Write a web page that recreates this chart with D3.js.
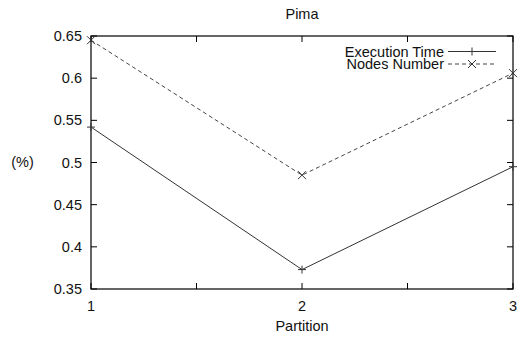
<!DOCTYPE html>
<html><head><meta charset="utf-8">
<script src="https://cdn.jsdelivr.net/npm/d3@7"></script>
<style>body{margin:0;background:#fff}svg text{font-family:"Liberation Sans",Arial,sans-serif;fill:#111}</style>
</head><body><svg id="c" width="524" height="339"></svg>
<script>
const partitions = [1, 2, 3];
const executionTime = [0.542, 0.373, 0.495];
const nodesNumber = [0.645, 0.485, 0.606];
const xTicks = [1, 1.5, 2, 2.5, 3];
const xLabels = [1, 2, 3];
const yTicks = [0.35, 0.4, 0.45, 0.5, 0.55, 0.6, 0.65];

const svg = d3.select("#c");
const L = 91, R = 513, T = 36, B = 289;
const x = d3.scaleLinear().domain([1, 3]).range([L, R]);
const y = d3.scaleLinear().domain([0.35, 0.65]).range([B, T]);
const tl = 6, fs = 14.5;

svg.append("rect").attr("x", L).attr("y", T).attr("width", R - L).attr("height", B - T)
  .attr("fill", "none").attr("stroke", "#000").attr("stroke-width", 1.2);

const g = svg.append("g");
yTicks.forEach(v => {
  g.append("line").attr("x1", L).attr("x2", L + tl).attr("y1", y(v)).attr("y2", y(v)).attr("stroke", "#000");
  g.append("line").attr("x1", R).attr("x2", R - tl).attr("y1", y(v)).attr("y2", y(v)).attr("stroke", "#000");
  g.append("text").attr("x", L - 9).attr("y", y(v)).attr("dy", "0.35em").attr("text-anchor", "end")
    .attr("font-size", fs).text(String(+v.toFixed(2)));
});
xTicks.forEach(v => {
  g.append("line").attr("x1", x(v)).attr("x2", x(v)).attr("y1", B).attr("y2", B - tl).attr("stroke", "#000");
  g.append("line").attr("x1", x(v)).attr("x2", x(v)).attr("y1", T).attr("y2", T + tl).attr("stroke", "#000");
});
xLabels.forEach(v => {
  g.append("text").attr("x", x(v)).attr("y", B + 17).attr("dy", "0.35em").attr("text-anchor", "middle")
    .attr("font-size", fs).text(v);
});

svg.append("text").attr("x", (L + R) / 2).attr("y", 13.5).attr("dy", "0.35em").attr("text-anchor", "middle").attr("font-size", fs).text("Pima");
svg.append("text").attr("x", (L + R) / 2).attr("y", 326).attr("dy", "0.35em").attr("text-anchor", "middle").attr("font-size", fs).text("Partition");
svg.append("text").attr("x", 22.5).attr("y", 162).attr("dy", "0.35em").attr("text-anchor", "middle").attr("font-size", fs).text("(%)");

const line = d3.line().x((d, i) => x(partitions[i])).y(d => y(d));
svg.append("path").datum(executionTime).attr("d", line).attr("fill", "none").attr("stroke", "#333").attr("stroke-width", 1);
svg.append("path").datum(nodesNumber).attr("d", line).attr("fill", "none").attr("stroke", "#444").attr("stroke-width", 1).attr("stroke-dasharray", "4,3");

function plus(px, py, col) {
  svg.append("path").attr("d", `M${px - 4},${py}H${px + 4}M${px},${py - 4}V${py + 4}`).attr("stroke", col).attr("stroke-width", 1);
}
function cross(px, py, col) {
  svg.append("path").attr("d", `M${px - 4},${py - 4}L${px + 4},${py + 4}M${px - 4},${py + 4}L${px + 4},${py - 4}`).attr("stroke", col).attr("stroke-width", 1);
}
executionTime.forEach((v, i) => plus(x(partitions[i]), y(v), "#333"));
nodesNumber.forEach((v, i) => cross(x(partitions[i]), y(v), "#333"));

// legend
const lx = 444, ly1 = 51.5, ly2 = 64;
svg.append("text").attr("x", lx).attr("y", ly1).attr("dy", "0.35em").attr("text-anchor", "end").attr("font-size", fs).text("Execution Time");
svg.append("text").attr("x", lx).attr("y", ly2).attr("dy", "0.35em").attr("text-anchor", "end").attr("font-size", fs).text("Nodes Number");
svg.append("line").attr("x1", 448).attr("x2", 496).attr("y1", ly1).attr("y2", ly1).attr("stroke", "#333");
plus(472, ly1, "#333");
svg.append("line").attr("x1", 448).attr("x2", 496).attr("y1", ly2).attr("y2", ly2).attr("stroke", "#444").attr("stroke-dasharray", "4,3");
cross(472, ly2, "#333");
</script></body></html>
